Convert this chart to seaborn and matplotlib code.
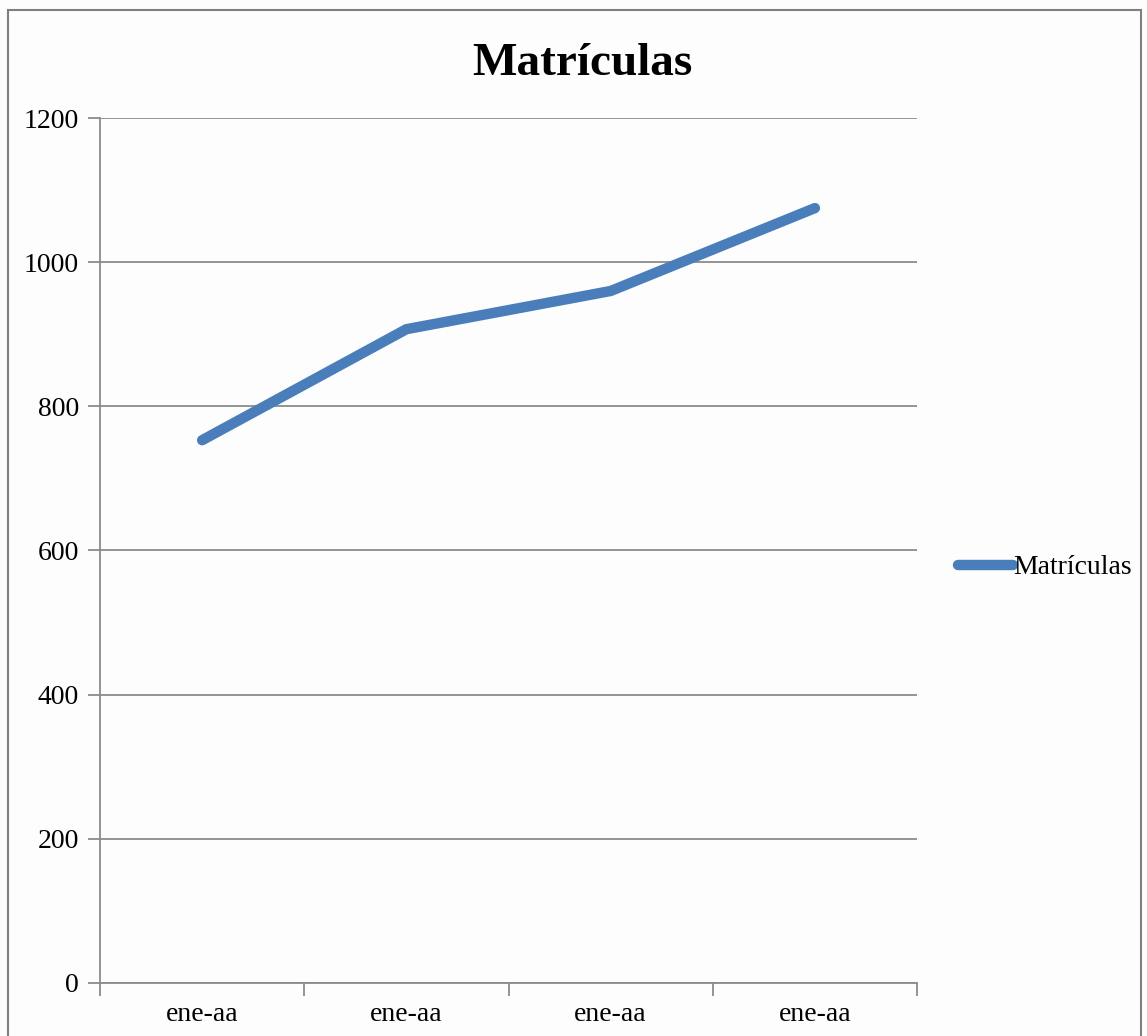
import matplotlib
matplotlib.use("Agg")
import matplotlib.pyplot as plt
import seaborn as sns
import pandas as pd
from matplotlib.patches import Rectangle

# data
categories = ["ene-aa", "ene-aa", "ene-aa", "ene-aa"]
positions = [0, 1, 2, 3]
matriculas = [753, 907, 960, 1075]
y_ticks = [0, 200, 400, 600, 800, 1000, 1200]

df = pd.DataFrame({"pos": positions, "Matrículas": matriculas})

sns.set_style("white")
plt.rcParams["font.family"] = ["Liberation Serif", "DejaVu Serif"]
plt.rcParams["text.color"] = "black"
plt.rcParams["xtick.color"] = "black"
plt.rcParams["ytick.color"] = "black"

fig = plt.figure(figsize=(11.47, 10.36), dpi=100)
fig.patch.set_facecolor("#fdfdfd")
ax = fig.add_axes([0.0872, 0.0512, 0.7123, 0.8349])
ax.set_facecolor("#fdfdfd")

sns.lineplot(data=df, x="pos", y="Matrículas", ax=ax, color="#4a7ebb",
             linewidth=7.5, solid_capstyle="round", label="Matrículas")

ax.set_xlim(-0.5, 3.5)
ax.set_ylim(0, 1200)
ax.set_yticks(y_ticks)
ax.set_yticklabels([str(v) for v in y_ticks], fontsize=20)
ax.yaxis.grid(True, color="#8c8c8c", linewidth=1.3)
ax.set_axisbelow(True)

# category labels in the middle, tick marks on the boundaries
ax.set_xticks([p - 0.5 for p in positions] + [3.5])
ax.set_xticklabels([])
ax.set_xticks(positions, minor=True)
ax.set_xticklabels(categories, minor=True, fontsize=20)
ax.tick_params(axis="x", which="major", bottom=True, length=9, width=1.3,
               color="#8c8c8c", direction="out")
ax.tick_params(axis="x", which="minor", bottom=True, length=0, pad=14)
ax.tick_params(axis="y", left=True, length=9, width=1.3, color="#8c8c8c",
               direction="out", pad=6)
ax.set_xlabel("")
ax.set_ylabel("")

for side in ["top", "right"]:
    ax.spines[side].set_visible(False)
for side in ["left", "bottom"]:
    ax.spines[side].set_color("#8c8c8c")
    ax.spines[side].set_linewidth(1.3)

fig.text(0.508, 0.938, "Matrículas", ha="center", va="center",
         fontsize=34, fontweight="bold")

leg = ax.legend(loc="center left", bbox_to_anchor=(0.835, 0.452),
                bbox_transform=fig.transFigure, frameon=False,
                borderaxespad=0, borderpad=0,
                fontsize=20, handlelength=2.0, handletextpad=0.0)

# outer chart border
fig.patches.append(Rectangle((0.007, -0.01), 0.988, 1.0, transform=fig.transFigure,
                             fill=False, edgecolor="#7f7f7f", linewidth=1.5))

fig.savefig("out.png", dpi=100)
